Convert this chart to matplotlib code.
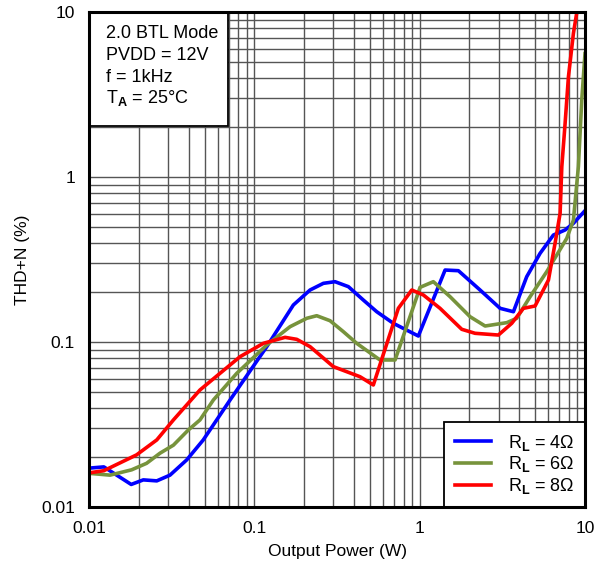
import matplotlib
matplotlib.use("Agg")
import matplotlib.pyplot as plt
from matplotlib.patches import Rectangle

plt.rcParams['font.family'] = ['Liberation Sans', 'DejaVu Sans']
plt.rcParams['mathtext.fontset'] = 'custom'
plt.rcParams['mathtext.rm'] = 'Liberation Sans'
plt.rcParams['mathtext.bf'] = 'Liberation Sans:bold'
plt.rcParams['mathtext.it'] = 'Liberation Sans:italic'

# 4 ohm
p4 = [0.01, 0.0123, 0.0180, 0.0213, 0.0257, 0.0309, 0.039, 0.0491, 0.0592, 0.0713,
      0.1189, 0.1722, 0.2173, 0.2616, 0.3077, 0.3705, 0.456, 0.55, 0.693, 0.982,
      1.425, 1.715, 2.319, 3.065, 3.69, 4.44, 5.35, 6.44, 7.58, 8.51, 10.0]
t4 = [0.0172, 0.0175, 0.0137, 0.0146, 0.0144, 0.0156, 0.0193, 0.0255, 0.0337, 0.0445,
      0.0937, 0.1676, 0.2066, 0.2268, 0.232, 0.2165, 0.1797, 0.1526, 0.1298, 0.1087,
      0.273, 0.2705, 0.2066, 0.16, 0.1526, 0.2487, 0.3447, 0.445, 0.4775, 0.524, 0.625]
# 6 ohm
p6 = [0.01, 0.0134, 0.0181, 0.0223, 0.0269, 0.0324, 0.0399, 0.0469, 0.0565, 0.0783,
      0.1189, 0.1644, 0.2075, 0.2384, 0.287, 0.3455, 0.416, 0.5755, 0.71, 1.006,
      1.21, 1.527, 2.018, 2.487, 3.365, 3.865, 4.655, 5.87, 7.76, 8.51, 9.12, 9.56, 10.0]
t6 = [0.016, 0.0156, 0.0168, 0.0184, 0.0212, 0.0237, 0.0293, 0.0337, 0.0445, 0.0646,
      0.0959, 0.1238, 0.1392, 0.1443, 0.1346, 0.1155, 0.0982, 0.0778, 0.0778, 0.2145,
      0.232, 0.1882, 0.1423, 0.125, 0.131, 0.1392, 0.1882, 0.2668, 0.4252, 0.548, 1.155, 2.93, 5.6]
# 8 ohm
p8 = [0.01, 0.0123, 0.0194, 0.0257, 0.0324, 0.0469, 0.062, 0.082, 0.1134, 0.1534,
      0.1805, 0.2173, 0.3006, 0.4357, 0.5246, 0.743, 0.896, 1.053, 1.328, 1.797,
      2.163, 2.993, 3.605, 4.24, 4.99, 6.01, 6.59, 7.07, 7.24, 7.58, 7.94, 8.51, 8.93]
t8 = [0.0161, 0.0166, 0.0207, 0.0255, 0.0337, 0.0512, 0.0646, 0.0815, 0.0982, 0.1067,
      0.1038, 0.0937, 0.0709, 0.0616, 0.0549, 0.16, 0.2066, 0.1927, 0.16, 0.1194,
      0.1129, 0.1102, 0.1298, 0.16, 0.1653, 0.2374, 0.3964, 0.6025, 1.155, 2.115, 4.05, 7.43, 10.0]

labels = [r"R$_\mathbf{L}$ = 4Ω", r"R$_\mathbf{L}$ = 6Ω", r"R$_\mathbf{L}$ = 8Ω"]
colors = ['#0000FF', '#77933C', '#FF0000']
info = ["2.0 BTL Mode", "PVDD = 12V", "f = 1kHz", r"T$_\mathbf{A}$ = 25°C"]

fig = plt.figure(figsize=(6.1, 5.62), dpi=100)
ax = fig.add_axes([89/610, 55/562, 496/610, 495/562])
ax.set_xscale('log')
ax.set_yscale('log')
ax.set_xlim(0.01, 10)
ax.set_ylim(0.01, 10)

ax.grid(True, which='both', color='#555555', linewidth=1.0)
ax.set_axisbelow(True)

for p, t, c, l in zip([p4, p6, p8], [t4, t6, t8], colors, labels):
    ax.plot(p, t, color=c, linewidth=2.6, label=l, zorder=3, solid_joinstyle='round')

for s in ax.spines.values():
    s.set_linewidth(2.2)
    s.set_zorder(6)

ax.tick_params(which='both', length=0, labelsize=12.5, pad=10)
ax.set_xticks([0.01, 0.1, 1, 10])
ax.set_xticklabels(['0.01', '0.1', '1', '10'])
ax.set_yticks([0.01, 0.1, 1, 10])
ax.set_yticklabels(['0.01', '0.1', '1', '10'])
ax.set_xlabel('Output Power (W)', fontsize=12.5, labelpad=6)
ax.set_ylabel('THD+N (%)', fontsize=12.5, labelpad=8)

# info box
box = Rectangle((0, 0.7697), 0.28, 0.2303, transform=ax.transAxes,
                facecolor='white', edgecolor='black', linewidth=1.3, zorder=4)
ax.add_patch(box)
ys = [507 - 33, 507 - 55, 507 - 77, 507 - 98]
for txt, yp in zip(info, ys):
    ax.text((106 - 89) / 496, yp / 495, txt, transform=ax.transAxes,
            fontsize=13, va='center', ha='left', zorder=5)

leg = ax.legend(loc='lower right', fontsize=13, frameon=True, fancybox=False,
                edgecolor='black', framealpha=1, borderaxespad=0,
                handlelength=2.0, handletextpad=0.9, labelspacing=0.1,
                borderpad=0.6)
leg.get_frame().set_linewidth(1.3)
leg.set_zorder(5)

fig.savefig('out.png', dpi=100)
